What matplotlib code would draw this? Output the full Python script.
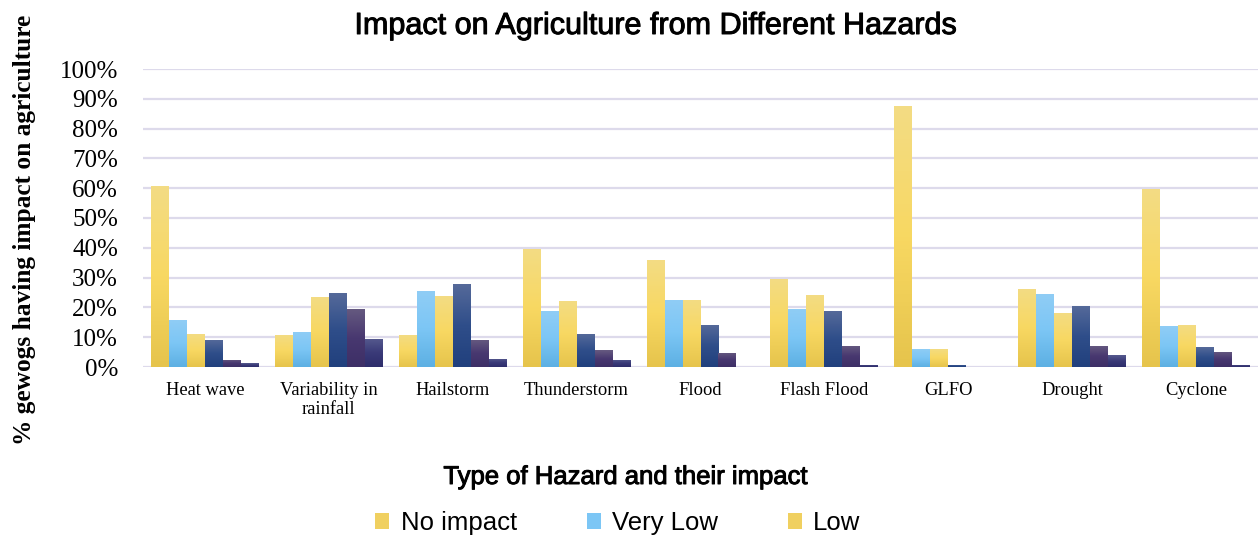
import numpy as np
import matplotlib.pyplot as plt
import matplotlib.patheffects as pe
from matplotlib.colors import LinearSegmentedColormap
from matplotlib.patches import Patch

# hazards on the x axis
hazards = ['Heat wave', 'Variability in\nrainfall', 'Hailstorm', 'Thunderstorm', 'Flood',
           'Flash Flood', 'GLFO', 'Drought', 'Cyclone']

# % of gewogs per impact level
no_impact = [60.6, 10.8, 10.8, 39.7, 36.0, 29.6, 87.5, 26.3, 59.6]
very_low = [15.8, 11.8, 25.6, 18.9, 22.6, 19.5, 6.1, 24.6, 13.8]
low = [11.1, 23.6, 23.9, 22.2, 22.6, 24.2, 6.1, 18.2, 14.1]
moderate = [9.1, 24.9, 27.9, 11.1, 14.1, 18.9, 0.7, 20.5, 6.7]
high = [2.4, 19.5, 9.1, 5.7, 4.7, 7.1, 0.0, 7.1, 5.1]
very_high = [1.3, 9.4, 2.7, 2.4, 0.0, 0.7, 0.0, 4.0, 0.7]

series = [no_impact, very_low, low, moderate, high, very_high]
names = ['No impact', 'Very Low', 'Low', 'Moderate', 'High', 'Very High']

# top / middle / bottom colours of each bar gradient
grads = [
    ['#F3DC84', '#F8D862', '#E6C44C'],
    ['#90CDF5', '#7CC6F5', '#5DB0E3'],
    ['#F3DC84', '#F8D862', '#E6C44C'],
    ['#566A9A', '#2F4E8A', '#21407D'],
    ['#665A80', '#483870', '#3D2F66'],
    ['#565A8E', '#3A3A78', '#2E2D6B'],
]

fig = plt.figure(figsize=(12.58, 5.39), dpi=100)
ax = fig.add_axes([143 / 1258, 1 - 367 / 539, 1115 / 1258, 298 / 539])

x = np.arange(len(hazards))
w = 0.145
ramp = np.linspace(0, 1, 64).reshape(-1, 1)
for i, vals in enumerate(series):
    cmap = LinearSegmentedColormap.from_list('g%d' % i, grads[i][::-1])
    bars = ax.bar(x + (i - 2.5) * w, np.array(vals) / 100, w, color=grads[i][1],
                  linewidth=0, label=names[i], zorder=2)
    for b in bars:
        h = b.get_height()
        if h <= 0:
            continue
        x0 = b.get_x()
        im = ax.imshow(ramp, cmap=cmap, extent=[x0, x0 + w, 0, h], origin='lower',
                       aspect='auto', zorder=3)
        im.set_clip_path(b)

ax.set_xlim(-0.5, len(hazards) - 0.5)
ax.set_ylim(0, 1)
ax.set_yticks(np.arange(0, 1.01, 0.1))
ax.set_yticklabels(['%d%%' % v for v in range(0, 101, 10)], family='Liberation Serif', fontsize=18)
ax.set_xticks(x)
ax.set_xticklabels(hazards, family='Liberation Serif', fontsize=13.3, linespacing=1.1)
ax.tick_params(axis='y', length=0, pad=18)
ax.tick_params(axis='x', length=0, pad=11)
ax.grid(axis='y', color='#DDDAEB', linewidth=1.6, zorder=0)
ax.set_axisbelow(True)
for s in ax.spines.values():
    s.set_visible(False)

thick = [pe.withStroke(linewidth=0.7, foreground='black')]
fig.text(25 / 1258, 1 - 230 / 539, '% gewogs having impact on agriculture', rotation=90,
         ha='center', va='center', family='Liberation Serif', fontweight='bold', fontsize=18.3)
fig.text(655 / 1258, 1 - 26 / 539, 'Impact on Agriculture from Different Hazards',
         ha='center', va='center', family='Liberation Sans', fontsize=22, path_effects=thick)
fig.text(626 / 1258, 1 - 477 / 539, 'Type of Hazard and their impact',
         ha='center', va='center', family='Liberation Sans', fontsize=18.5, path_effects=thick)

handles = [Patch(facecolor='#F0D060'), Patch(facecolor='#7CC6F5'), Patch(facecolor='#F0D060')]
leg = fig.legend(handles, names[:3], loc='center', bbox_to_anchor=(618 / 1258, 1 - 523 / 539), ncol=3,
                 frameon=False, prop={'family': 'Liberation Sans', 'size': 18.5},
                 handlelength=0.55, handleheight=0.55, handletextpad=0.45, columnspacing=2.7)

fig.savefig('out.png', dpi=100)
